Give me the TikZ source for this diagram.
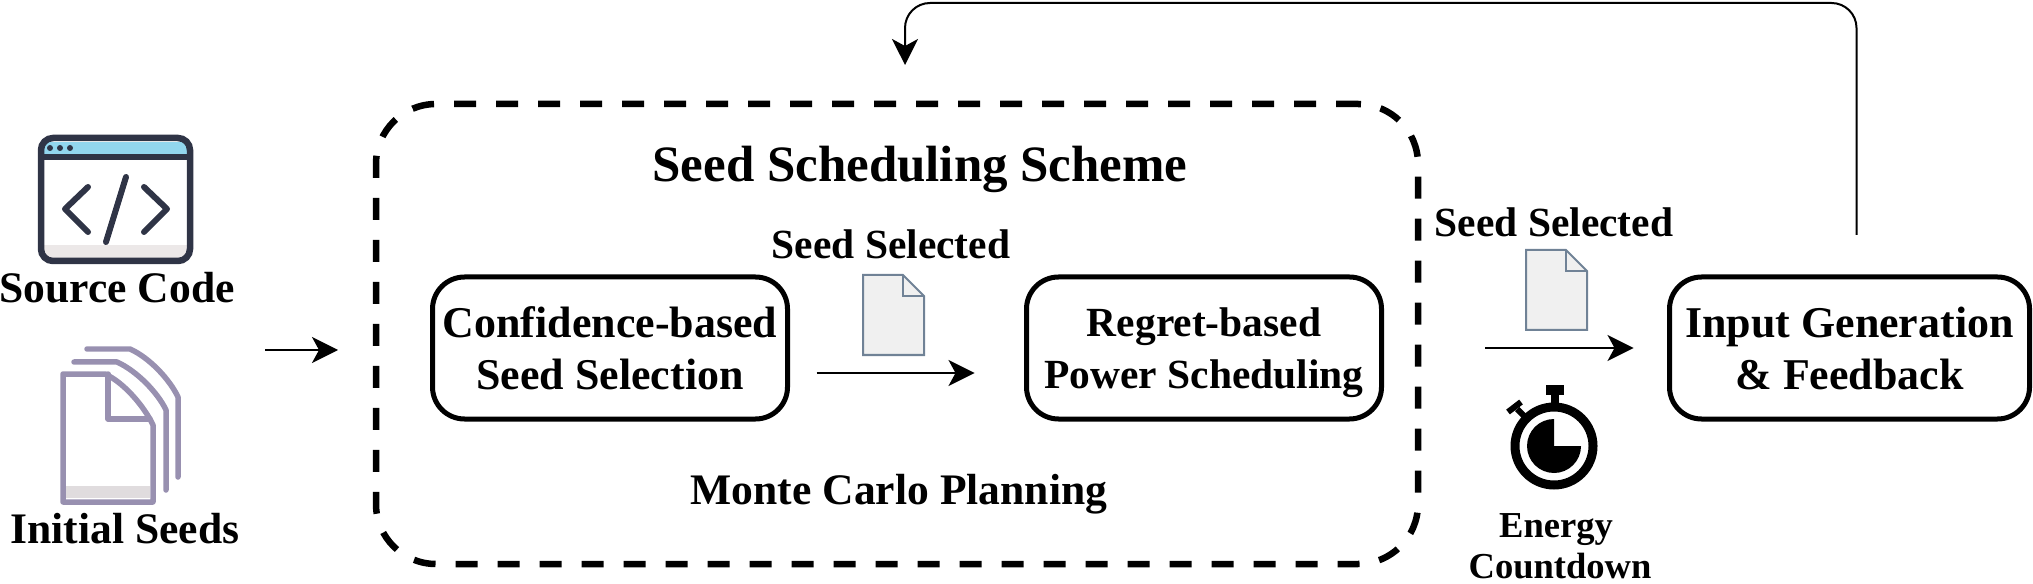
\documentclass[tikz,border=0pt]{standalone}
\usepackage{fontspec}
\setmainfont{Liberation Serif}
\usepackage{tikz}
\usetikzlibrary{positioning, arrows.meta}

\definecolor{codeink}{HTML}{2F3446}
\definecolor{codeblue}{HTML}{92D6EE}
\definecolor{codegray}{HTML}{ECE8E8}
\definecolor{seedink}{HTML}{9890B0}
\definecolor{seedgray}{HTML}{E0DCDE}
\definecolor{fileink}{HTML}{708296}
\definecolor{filefill}{HTML}{F0F0F0}

\tikzset{
	flow/.style={-{Stealth[length=0.26cm, width=0.26cm, inset=0.07cm]}, line width=0.02cm, black},
	procbox/.style={draw, line width=0.05cm, rounded corners=0.32cm, minimum width=3.55cm, minimum height=1.42cm, align=center, inner sep=0, outer sep=0, font=\fontsize{12.5}{14.8}\selectfont\bfseries},
	schemebox/.style={draw, dashed, line width=0.065cm, dash pattern=on 0.22cm off 0.2cm, rounded corners=0.6cm, minimum width=10.42cm, minimum height=4.6cm, inner sep=0, outer sep=0},
	tag/.style={anchor=base, inner sep=0, outer sep=0, align=center, font=\fontsize{12.4}{14.8}\selectfont\bfseries},
	pick/.style={tag, font=\fontsize{11.8}{14.8}\selectfont\bfseries},
	small/.style={tag, font=\fontsize{10.4}{13}\selectfont\bfseries},
	codeline/.style={codeink, line width=0.06cm, line cap=round, line join=round},
	seedline/.style={seedink, line width=0.055cm, line cap=round, line join=round},
	fileline/.style={draw=fileink, fill=filefill, line width=0.02cm}
}

\begin{document}
\begin{tikzpicture}
	\useasboundingbox (0, 0) rectangle (20.33, 5.83);

	\fill[codeblue] (0.44, 4.26) rectangle (1.88, 4.41);
	\fill[codegray] (0.44, 3.25) rectangle (1.88, 3.38);
	\draw[codeink, line width=0.065cm, rounded corners=0.12cm] (0.41, 3.22) rectangle (1.90, 4.45);
	\draw[codeink, line width=0.06cm] (0.41, 4.26) -- (1.90, 4.26);
	\foreach \x in {0.50, 0.60, 0.70} {
		\fill[codeink] (\x, 4.35) circle (0.03);
	};
	\draw[codeline] (0.88, 3.96) -- (0.65, 3.74) -- (0.88, 3.51);
	\draw[codeline] (1.26, 4.06) -- (1.06, 3.41);
	\draw[codeline] (1.44, 3.96) -- (1.67, 3.74) -- (1.44, 3.51);
	\node[tag] (sourcecode) at (1.17, 2.80) {Source Code};

	\fill[seedgray] (0.66, 0.85) rectangle (1.50, 0.97);
	\draw[seedline] (0.63, 0.81) -- (0.63, 2.09) -- (1.05, 2.09) .. controls (1.25, 2.00) and (1.45, 1.75) .. (1.53, 1.58) -- (1.53, 0.81) -- cycle;
	\draw[seedline] (1.08, 2.09) -- (1.08, 1.64) -- (1.50, 1.64);
	\draw[seedline] (0.74, 2.21) -- (1.17, 2.21) .. controls (1.37, 2.12) and (1.58, 1.90) .. (1.66, 1.73) -- (1.66, 0.93);
	\draw[seedline] (0.87, 2.34) -- (1.30, 2.34) .. controls (1.50, 2.25) and (1.70, 2.03) .. (1.78, 1.86) -- (1.78, 1.06);
	\node[tag] (initialseeds) at (1.25, 0.40) {Initial Seeds};

	\node[schemebox] (scheme) at (8.97, 2.49) {};
	\node[tag, font=\fontsize{14.5}{16}\selectfont\bfseries] (schemetitle) at (9.20, 4.01) {Seed Scheduling Scheme};
	\node[tag] (montecarlo) at (8.99, 0.79) {Monte Carlo Planning};

	\node[procbox] (confidence) at (6.10, 2.35) {Confidence-based\\Seed Selection};
	\node[procbox, right=2.39cm of confidence, font=\fontsize{11.8}{14.8}\selectfont\bfseries] (regret) {\rule{0pt}{0.38cm}Regret-based\\Power Scheduling};
	\node[procbox, right=2.88cm of regret, minimum width=3.6cm] (input) {Input Generation\\\& Feedback};

	\foreach \x/\y in {8.63/2.28, 15.26/2.53} {
		\draw[fileline] (\x, \y) -- ++(0, 0.80) -- ++(0.40, 0) -- ++(0.21, -0.21) -- ++(0, -0.59) -- cycle;
		\draw[fileline, fill=none] (\x + 0.40, \y + 0.80) -- ++(0, -0.21) -- ++(0.21, 0);
	};
	\node[pick] (selectedleft) at (8.91, 3.24) {Seed Selected};
	\node[pick] (selectedright) at (15.54, 3.46) {Seed Selected};

	\coordinate (watch) at (15.54, 1.37);
	\draw[black, line width=0.09cm] (watch) circle (0.39);
	\fill[black] (watch) -- ++(0, 0.27) arc[start angle=90, end angle=360, radius=0.27] -- cycle;
	\fill[black] (15.46, 1.88) rectangle (15.64, 1.98);
	\fill[black] (15.51, 1.75) rectangle (15.59, 1.88);
	\draw[black, line width=0.06cm] (15.08, 1.71) -- (15.21, 1.81);
	\draw[black, line width=0.06cm] (15.17, 1.74) -- (15.24, 1.67);
	\node[small] (energy) at (15.56, 0.46) {Energy};
	\node[small] (countdown) at (15.60, 0.05) {Countdown};

	\coordinate (inputs) at (2.65, 2.33);
	\coordinate (topline) at (9.05, 5.80);
	\draw[flow] (inputs) -- ([xshift=-0.38cm]inputs -| scheme.west);
	\draw[flow] ([xshift=0.29cm, yshift=-0.25cm]confidence.east) -- ([xshift=-0.52cm, yshift=-0.25cm]regret.west);
	\draw[flow] ([xshift=0.67cm]scheme.east |- input.west) -- ([xshift=-0.36cm]input.west);
	\draw[flow, rounded corners=0.25cm] ([xshift=0.07cm, yshift=0.42cm]input.north) |- (topline) -- ([xshift=0.08cm, yshift=0.39cm]scheme.north);
\end{tikzpicture}
\end{document}
